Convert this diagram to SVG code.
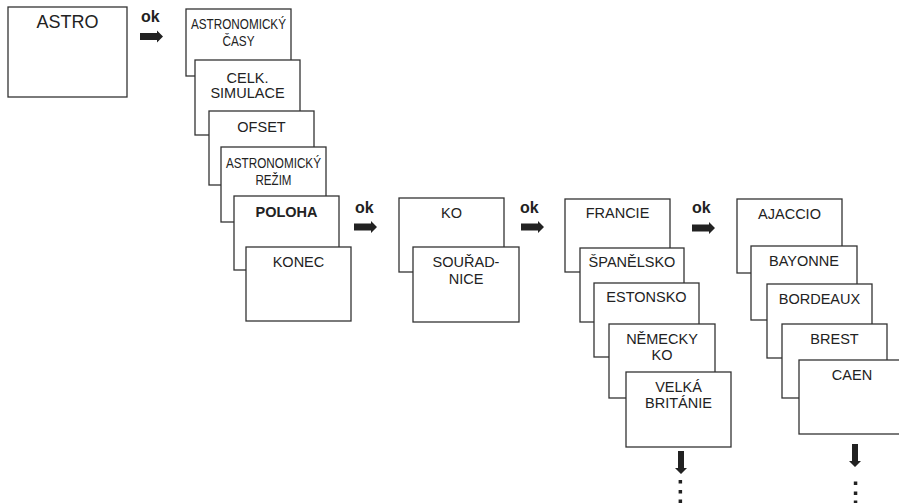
<svg xmlns="http://www.w3.org/2000/svg" xmlns:xlink="http://www.w3.org/1999/xlink" width="899" height="503" viewBox="0 0 899 503">
<style>
.b{fill:#fff;stroke:#333;stroke-width:1.3}
.t{font-family:"Liberation Sans",Arial,sans-serif;font-size:14.5px;fill:#222;text-anchor:middle}
.big{font-size:18px}
.bold{font-weight:bold}
.ok{font-family:"Liberation Sans",Arial,sans-serif;font-size:16px;font-weight:bold;fill:#222}
.a{fill:#222}
</style>
<defs>
<path id="ra" d="M0,-3.5 H17 V-6 L23,0 L17,6 V3.5 H0 Z"/>
<path id="da" d="M-3,0 V17 H-6 L0,23 L6,17 H3 V0 Z"/>
</defs>
<rect width="899" height="503" fill="#fff"/>
<g id="astro"><rect class="b" x="8" y="7" width="119" height="90"/><text class="t big" x="67.5" y="28">ASTRO</text></g>
<g id="astro-casy"><rect class="b" x="186" y="9" width="105" height="67"/><text class="t" x="238.5" y="29" textLength="95" lengthAdjust="spacingAndGlyphs">ASTRONOMICKÝ</text><text class="t" x="238.5" y="46" textLength="32" lengthAdjust="spacingAndGlyphs">ČASY</text></g>
<g id="celk-simulace"><rect class="b" x="195" y="60" width="105" height="75"/><text class="t" x="247.5" y="83">CELK.</text><text class="t" x="247.5" y="98">SIMULACE</text></g>
<g id="ofset"><rect class="b" x="209" y="111" width="105" height="74"/><text class="t" x="261.5" y="132">OFSET</text></g>
<g id="astro-rezim"><rect class="b" x="221" y="147" width="105" height="75"/><text class="t" x="273.5" y="168" textLength="95" lengthAdjust="spacingAndGlyphs">ASTRONOMICKÝ</text><text class="t" x="273.5" y="185" textLength="36" lengthAdjust="spacingAndGlyphs">REŽIM</text></g>
<g id="poloha"><rect class="b" x="234" y="196" width="105" height="74"/><text class="t bold" x="286.5" y="217">POLOHA</text></g>
<g id="konec"><rect class="b" x="246" y="247" width="105" height="74"/><text class="t" x="298.5" y="267">KONEC</text></g>
<g id="ko"><rect class="b" x="399" y="198" width="105" height="74"/><text class="t" x="451.5" y="218">KO</text></g>
<g id="souradnice"><rect class="b" x="413" y="247" width="106" height="75"/><text class="t" x="466" y="267">SOUŘAD-</text><text class="t" x="466" y="284">NICE</text></g>
<g id="francie"><rect class="b" x="565" y="199" width="105" height="73"/><text class="t" x="617.5" y="218">FRANCIE</text></g>
<g id="spanelsko"><rect class="b" x="580" y="248" width="104" height="74"/><text class="t" x="632" y="267">ŠPANĚLSKO</text></g>
<g id="estonsko"><rect class="b" x="594" y="283" width="105" height="74"/><text class="t" x="646.5" y="302">ESTONSKO</text></g>
<g id="nemecko"><rect class="b" x="609" y="324" width="106" height="74"/><text class="t" x="662" y="344">NĚMECKY</text><text class="t" x="662" y="360">KO</text></g>
<g id="britanie"><rect class="b" x="626" y="372" width="105" height="75"/><text class="t" x="678.5" y="392">VELKÁ</text><text class="t" x="678.5" y="408">BRITÁNIE</text></g>
<g id="ajaccio"><rect class="b" x="737" y="199" width="105" height="74"/><text class="t" x="789.5" y="219">AJACCIO</text></g>
<g id="bayonne"><rect class="b" x="751" y="246" width="106" height="74"/><text class="t" x="804" y="266">BAYONNE</text></g>
<g id="bordeaux"><rect class="b" x="767" y="284" width="105" height="74"/><text class="t" x="819.5" y="304">BORDEAUX</text></g>
<g id="brest"><rect class="b" x="782" y="324" width="105" height="74"/><text class="t" x="834.5" y="344">BREST</text></g>
<g id="caen"><rect class="b" x="799" y="360" width="106" height="74"/><text class="t" x="852" y="380">CAEN</text></g>
<g id="connectors">
<text class="ok" x="141" y="22">ok</text><use xlink:href="#ra" class="a" transform="translate(140,36.5)"/>
<text class="ok" x="355" y="213">ok</text><use xlink:href="#ra" class="a" transform="translate(354,227)"/>
<text class="ok" x="520" y="213">ok</text><use xlink:href="#ra" class="a" transform="translate(521,227)"/>
<text class="ok" x="692" y="213">ok</text><use xlink:href="#ra" class="a" transform="translate(692,228)"/>
<use xlink:href="#da" class="a" transform="translate(681,451)"/>
<rect class="a" x="678.6" y="480" width="3.5" height="3.5"/><rect class="a" x="678.6" y="490" width="3.5" height="3.5"/><rect class="a" x="678.6" y="499.5" width="3.5" height="3.5"/>
<use xlink:href="#da" class="a" transform="translate(855,444)"/>
<rect class="a" x="853.8" y="481.5" width="3.5" height="3.5"/><rect class="a" x="853.8" y="491.5" width="3.5" height="3.5"/><rect class="a" x="853.8" y="500.5" width="3.5" height="3.5"/>
</g>
</svg>
